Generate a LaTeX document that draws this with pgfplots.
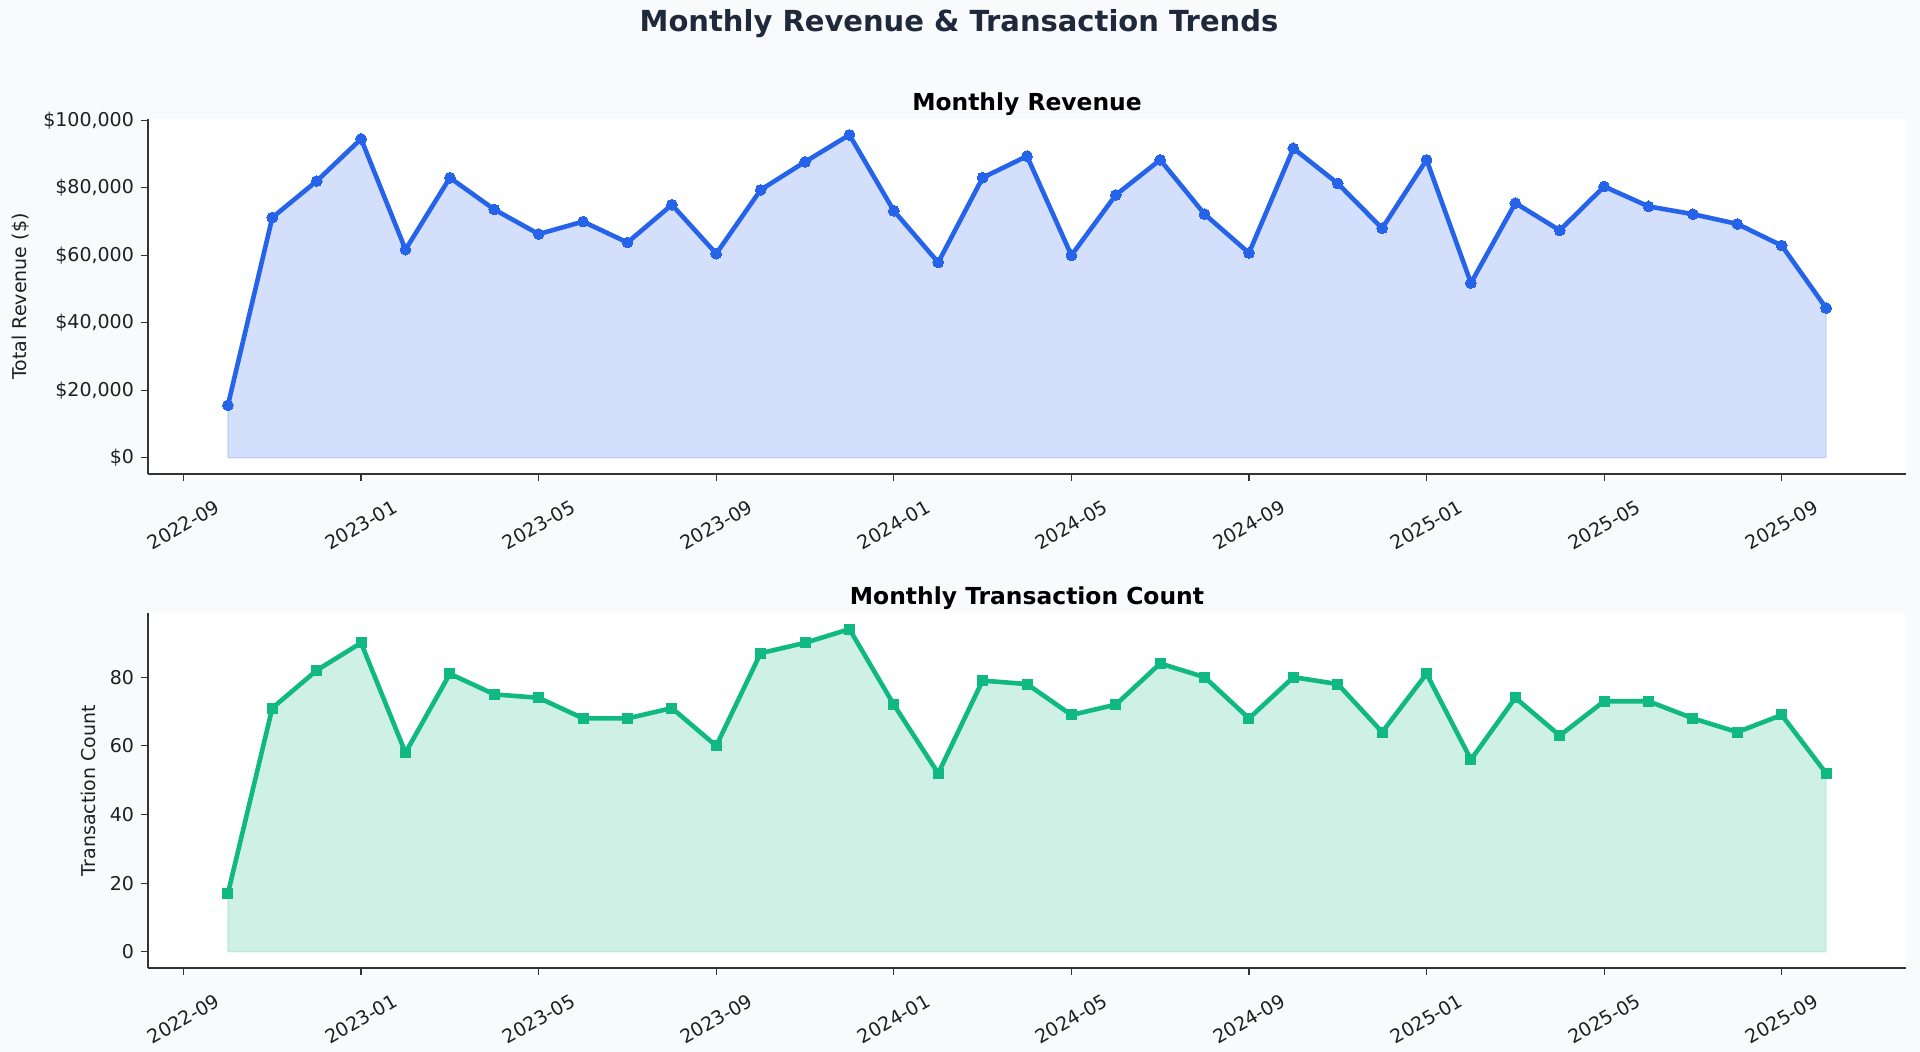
\documentclass[border=0pt]{standalone}
\usepackage{fontspec}
\setmainfont{DejaVu Sans}
\usepackage{pgfplots}
\pgfplotsset{compat=1.18}
\usepackage{pgfplotstable}
\definecolor{bg}{HTML}{F8FAFC}
\definecolor{rev}{HTML}{2563EB}
\definecolor{txn}{HTML}{10B981}
\definecolor{spine}{HTML}{333333}
\definecolor{ttl}{HTML}{1E293B}

\pgfplotstableread{
m rev cnt
1 15600 17
2 71200 71
3 82000 82
4 94500 90
5 61700 58
6 83000 81
7 73600 75
8 66300 74
9 70000 68
10 63800 68
11 75000 71
12 60500 60
13 79400 87
14 87700 90
15 95700 94
16 73200 72
17 57900 52
18 83000 79
19 89400 78
20 60000 69
21 77900 72
22 88300 84
23 72200 80
24 60700 68
25 91700 80
26 81300 78
27 68000 64
28 88300 81
29 51800 56
30 75500 74
31 67400 63
32 80400 73
33 74500 73
34 72200 68
35 69300 64
36 62900 69
37 44400 52
}\data

\pgfplotsset{myax/.style={
  scale only axis, width=879pt, height=177.5pt,
  xmin=-0.8, xmax=38.8,
  axis x line*=bottom, axis y line*=left,
  axis line style={spine, line width=0.6pt},
  every tick/.style={spine, line width=0.6pt},
  tick align=outside, major tick length=3.5pt,
  xtick={0,4,...,36},
  xticklabels={2022-09,2023-01,2023-05,2023-09,2024-01,2024-05,2024-09,2025-01,2025-05,2025-09},
  xticklabel style={yshift=-22pt, rotate=30, anchor=center},
  ticklabel style={font=\fontsize{9.5}{11}\selectfont, text=black!88},
  /pgf/number format/assume math mode=true,
  axis background/.style={fill=white},
  title style={font=\bfseries\fontsize{11.7}{14}\selectfont, yshift=-8pt},
  label style={font=\fontsize{9.5}{11}\selectfont, text=black!88},
}}

\begin{document}
\begin{tikzpicture}
\path[use as bounding box, fill=bg] (0,0) rectangle (960pt,526pt);
\node[font=\bfseries\fontsize{14.5}{17}\selectfont, text=ttl] at (479.5pt,514.3pt) {Monthly Revenue \& Transaction Trends};

\begin{axis}[myax, at={(74pt,289pt)}, anchor=south west,
  title={Monthly Revenue},
  ymin=-4780, ymax=100400,
  ytick={0,20000,...,100000},
  scaled y ticks=false,
  yticklabel={\$\pgfmathprintnumber[fixed,1000 sep={,}]{\tick}},
  ylabel={Total Revenue (\$)},
]
\addplot[draw=rev, draw opacity=0.2, line width=0.6pt, fill=rev, fill opacity=0.2] table[x=m,y=rev]{\data} \closedcycle;
\addplot[rev, line width=2.3pt, mark=*, mark size=2.7pt, mark options={solid, fill=rev, draw=rev, line width=0pt}] table[x=m,y=rev]{\data};
\end{axis}

\begin{axis}[myax, at={(74pt,42pt)}, anchor=south west,
  title={Monthly Transaction Count},
  ymin=-4.7, ymax=98.7,
  ytick={0,20,...,80},
  ylabel={Transaction Count},
]
\addplot[draw=txn, draw opacity=0.2, line width=0.6pt, fill=txn, fill opacity=0.2] table[x=m,y=cnt]{\data} \closedcycle;
\addplot[txn, line width=2.3pt, mark=square*, mark size=2.5pt, mark options={solid, fill=txn, draw=txn, line width=0pt}] table[x=m,y=cnt]{\data};
\end{axis}
\end{tikzpicture}
\end{document}
